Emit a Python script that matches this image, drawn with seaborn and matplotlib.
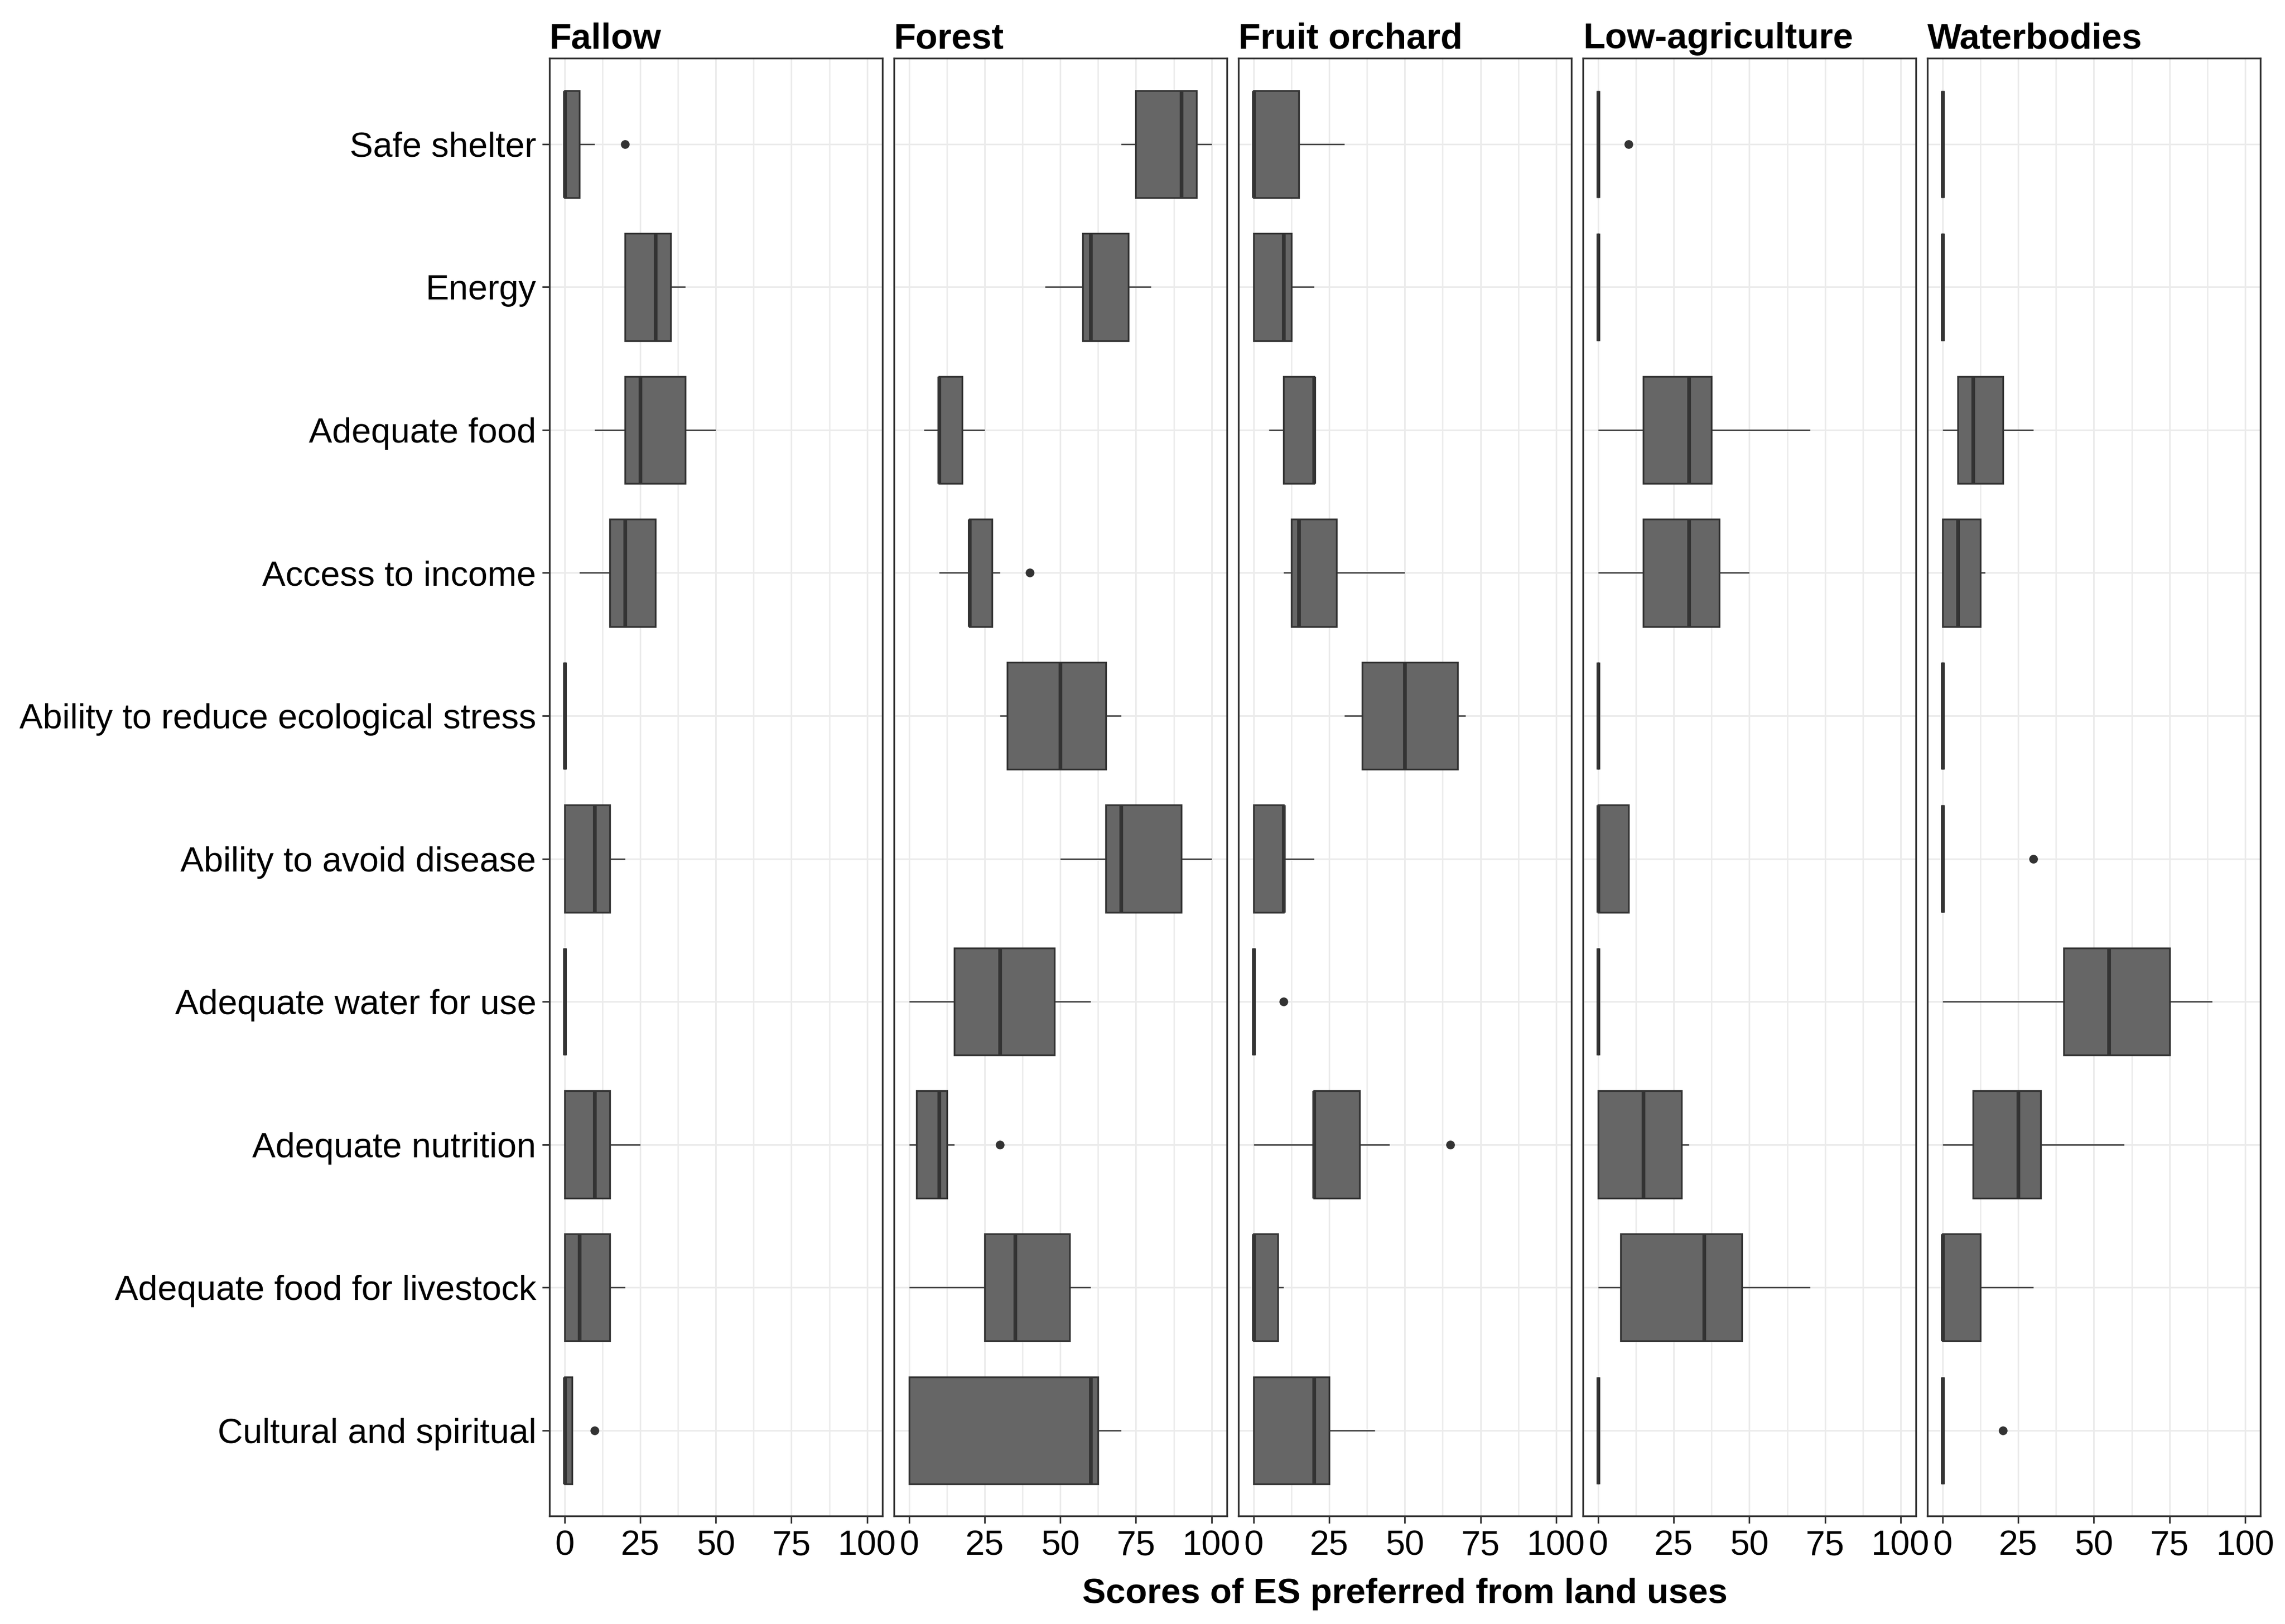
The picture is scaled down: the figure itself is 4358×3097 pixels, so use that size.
import numpy as np
import pandas as pd
import matplotlib
matplotlib.use("Agg")
import matplotlib.pyplot as plt
import seaborn as sns

# Categories
services = ["Safe shelter", "Energy", "Adequate food", "Access to income",
            "Ability to reduce ecological stress", "Ability to avoid disease",
            "Adequate water for use", "Adequate nutrition",
            "Adequate food for livestock", "Cultural and spiritual"]
land_uses = ["Fallow", "Forest", "Fruit orchard", "Low-agriculture", "Waterbodies"]

# Box summaries per service:
# (lower whisker, Q1, median, Q3, upper whisker)
fallow = [(0, 0, 0, 5, 10), (20, 20, 30, 35, 40), (10, 20, 25, 40, 50),
          (5, 15, 20, 30, 30), (0, 0, 0, 0, 0), (0, 0, 10, 15, 20),
          (0, 0, 0, 0, 0), (0, 0, 10, 15, 25), (0, 0, 5, 15, 20),
          (0, 0, 0, 2.5, 2.5)]
forest = [(70, 75, 90, 95, 100), (45, 57.5, 60, 72.5, 80), (5, 10, 10, 17.5, 25),
          (10, 20, 20, 27.5, 30), (30, 32.5, 50, 65, 70), (50, 65, 70, 90, 100),
          (0, 15, 30, 48, 60), (0, 2.5, 10, 12.5, 15), (0, 25, 35, 53, 60),
          (0, 0, 60, 62.5, 70)]
fruit_orchard = [(0, 0, 0, 15, 30), (0, 0, 10, 12.5, 20), (5, 10, 20, 20, 20),
                 (10, 12.5, 15, 27.5, 50), (30, 36, 50, 67.5, 70), (0, 0, 10, 10, 20),
                 (0, 0, 0, 0, 0), (0, 20, 20, 35, 45), (0, 0, 0, 8, 10),
                 (0, 0, 20, 25, 40)]
low_agriculture = [(0, 0, 0, 0, 0), (0, 0, 0, 0, 0), (0, 15, 30, 37.5, 70),
                   (0, 15, 30, 40, 50), (0, 0, 0, 0, 0), (0, 0, 0, 10, 10),
                   (0, 0, 0, 0, 0), (0, 0, 15, 27.5, 30), (0, 7.5, 35, 47.5, 70),
                   (0, 0, 0, 0, 0)]
waterbodies = [(0, 0, 0, 0, 0), (0, 0, 0, 0, 0), (0, 5, 10, 20, 30),
               (0, 0, 5, 12.5, 14), (0, 0, 0, 0, 0), (0, 0, 0, 0, 0),
               (0, 40, 55, 75, 89), (0, 10, 25, 32.5, 60), (0, 0, 0, 12.5, 30),
               (0, 0, 0, 0, 0)]

# Outlying points
out_land = ["Fallow", "Fallow", "Forest", "Forest", "Fruit orchard",
            "Fruit orchard", "Low-agriculture", "Waterbodies", "Waterbodies"]
out_service = ["Safe shelter", "Cultural and spiritual", "Access to income",
               "Adequate nutrition", "Adequate water for use", "Adequate nutrition",
               "Safe shelter", "Ability to avoid disease", "Cultural and spiritual"]
out_value = [20, 10, 40, 30, 10, 65, 10, 30, 20]

# Long-form table: five values per box give exactly these percentiles with whis=(0, 100)
rows = []
for lu, stats in zip(land_uses, [fallow, forest, fruit_orchard, low_agriculture, waterbodies]):
    for svc, five in zip(services, stats):
        for v in five:
            rows.append((lu, svc, v))
boxes = pd.DataFrame(rows, columns=["land_use", "service", "score"])
outliers = pd.DataFrame({"land_use": out_land, "service": out_service, "score": out_value})

sns.set_style("white")
plt.rcParams["font.family"] = ["Liberation Sans", "DejaVu Sans"]

FS = 16
GRID = "#EBEBEB"
DARK = "#333333"

fig, axes = plt.subplots(1, 5, figsize=(4358 / 300, 3097 / 300), dpi=300)
fig.subplots_adjust(left=0.2404, right=0.9892, top=0.9641, bottom=0.0664, wspace=0.035)

for i, (ax, lu) in enumerate(zip(axes, land_uses)):
    sub = boxes[boxes["land_use"] == lu]
    sns.boxplot(data=sub, x="score", y="service", order=services, ax=ax,
                whis=(0, 100), width=0.75, color="#666666", linecolor=DARK,
                linewidth=0.8, saturation=1, showcaps=False, showfliers=False,
                medianprops=dict(linewidth=1.7, color=DARK),
                whiskerprops=dict(linewidth=0.6, color=DARK))
    pts = outliers[outliers["land_use"] == lu]
    sns.stripplot(data=pts, x="score", y="service", order=services, ax=ax,
                  jitter=False, color=DARK, size=4, linewidth=0)

    ax.set_xlim(-5, 105)
    ax.set_ylim(9.6, -0.6)
    ax.set_xticks([0, 25, 50, 75, 100])
    ax.set_xticklabels(["0", "25", "50", "75", "100"])
    ax.set_xticks([12.5, 37.5, 62.5, 87.5], minor=True)
    ax.grid(which="major", axis="both", color=GRID, linewidth=0.7)
    ax.grid(which="minor", axis="x", color=GRID, linewidth=0.6)
    ax.set_axisbelow(True)
    ax.set_xlabel("")
    ax.set_ylabel("")
    ax.set_title(lu, loc="left", fontsize=16.5, fontweight="bold", pad=4.5,
                 color="black")
    for sp in ax.spines.values():
        sp.set_visible(True)
        sp.set_color(DARK)
        sp.set_linewidth(0.8)
    ax.tick_params(axis="x", which="major", length=3.3, width=0.7, color=DARK,
                   labelsize=FS, labelcolor="black", pad=3, bottom=True)
    ax.tick_params(axis="x", which="minor", length=0)
    if i == 0:
        ax.tick_params(axis="y", length=3.3, width=0.7, color=DARK,
                       labelsize=FS, labelcolor="black", pad=2.7, left=True)
    else:
        ax.tick_params(axis="y", left=False, labelleft=False)

fig.text((0.2404 + 0.9892) / 2, 0.0185, "Scores of ES preferred from land uses",
         ha="center", va="center", fontsize=16.2, fontweight="bold", color="black")

fig.savefig("out.png", dpi=300)
